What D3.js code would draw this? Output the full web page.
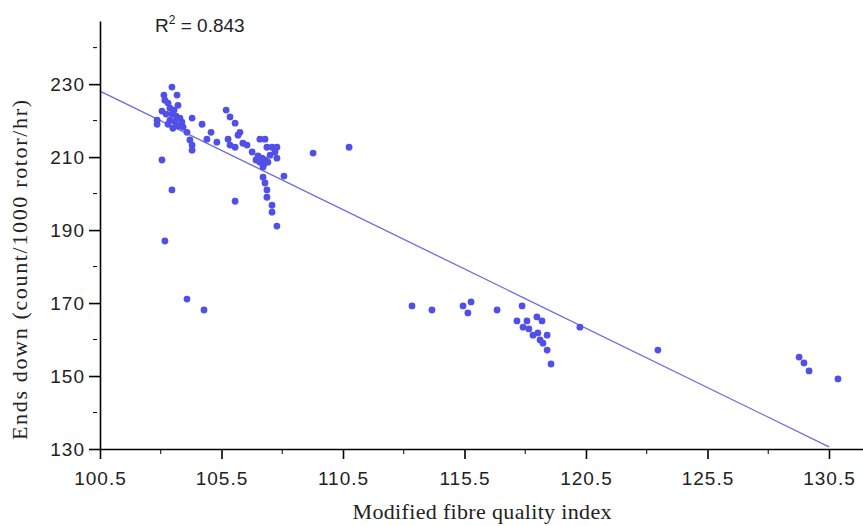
<!DOCTYPE html>
<html>
<head>
<meta charset="utf-8">
<script src="https://cdn.jsdelivr.net/npm/d3@7"></script>
<style>
  body { margin: 0; background: #fff; }
  svg { display: block; }
</style>
</head>
<body>
<script>
// Modified fibre quality index (x) vs ends down (y)
var mfqi = [
  103.46, 103.13, 103.67, 103.17, 103.30, 103.71, 103.05, 103.38, 103.55, 103.22,
  102.85, 102.85, 103.46, 103.63, 103.79, 103.38, 103.59, 103.87, 103.30, 103.71,
  103.50, 103.92, 104.29, 104.70, 104.08, 104.20, 104.29, 104.29, 105.07, 104.90,
  105.31, 103.05, 103.46, 103.17, 104.08, 104.78,
  105.69, 105.85, 106.06, 106.26, 106.18, 105.77, 105.85, 106.06, 106.38, 106.55,
  106.76, 107.08, 107.29, 107.37, 107.58, 107.78, 107.00, 107.17, 107.29, 107.08,
  107.25, 107.41, 106.92, 107.21, 107.50, 107.70, 107.78, 108.07, 107.21, 107.29,
  107.37, 107.37, 107.58, 107.58, 107.78, 106.06, 109.27, 110.75,
  113.34, 114.16, 115.44, 115.77, 115.64, 116.84, 117.87, 117.66, 118.07, 117.91,
  118.48, 118.69, 118.15, 118.32, 118.52, 118.90, 118.61, 118.73, 118.90, 119.06,
  120.25, 123.46, 129.27, 129.47, 129.68, 130.87
];
var endsDown = [
  229.2, 227.0, 227.0, 225.6, 224.8, 224.2, 222.6, 223.4, 222.9, 221.8,
  220.1, 219.0, 221.8, 221.2, 220.7, 220.1, 219.6, 219.6, 219.0, 218.5,
  217.9, 218.2, 220.7, 219.0, 216.8, 214.7, 213.3, 211.9, 216.8, 214.9,
  214.1, 209.2, 201.0, 187.0, 171.1, 168.1,
  222.9, 221.0, 219.3, 216.8, 216.0, 214.9, 213.3, 212.7, 213.8, 213.3,
  211.4, 214.9, 214.9, 212.7, 212.7, 212.7, 210.3, 209.7, 209.2, 208.6,
  208.1, 208.6, 209.2, 207.3, 210.5, 211.4, 209.7, 204.8, 204.5, 202.9,
  201.0, 199.0, 196.8, 194.9, 191.1, 197.9, 211.1, 212.7,
  169.2, 168.1, 169.2, 170.3, 167.3, 168.1, 169.2, 165.1, 165.1, 163.4,
  166.2, 165.1, 162.9, 161.2, 161.8, 161.2, 159.9, 159.0, 157.1, 153.3,
  163.4, 157.1, 155.2, 153.6, 151.4, 149.2
];

// fitted line end points
var fitX = [100.5, 130.5];
var fitY = [228.1, 130.6];

var xTicks = [100.5, 105.5, 110.5, 115.5, 120.5, 125.5, 130.5];
var xMinor = [103, 108, 113, 118, 123, 128];
var yTicks = [130, 150, 170, 190, 210, 230];
var yMinor = [140, 160, 180, 200, 220, 240];

var svgWidth = 863, svgHeight = 526;
var plotLeft = 100, plotBottom = 449, plotTop = 21;

var svg = d3.select('body').append('svg')
  .attr('width', svgWidth)
  .attr('height', svgHeight);

var x = d3.scaleLinear().domain([100.5, 131.9]).range([plotLeft, svgWidth]);
var y = d3.scaleLinear().domain([130, 247.3]).range([plotBottom, plotTop]);

// regression line
svg.append('line')
  .attr('x1', x(fitX[0])).attr('y1', y(fitY[0]))
  .attr('x2', x(fitX[1])).attr('y2', y(fitY[1]))
  .attr('stroke', '#6b6be6')
  .attr('stroke-width', 1.3);

// points
svg.append('g')
  .selectAll('circle')
  .data(mfqi)
  .enter()
  .append('circle')
  .attr('cx', function(d) { return x(d); })
  .attr('cy', function(d, i) { return y(endsDown[i]); })
  .attr('r', 3.4)
  .attr('fill', '#5050e8');

// x axis
var xAxis = svg.append('g')
  .attr('transform', 'translate(0,' + plotBottom + ')')
  .call(d3.axisBottom(x).tickValues(xTicks).tickSize(10).tickSizeOuter(0)
    .tickFormat(d3.format('.1f')));
xAxis.append('g')
  .selectAll('line')
  .data(xMinor)
  .enter()
  .append('line')
  .attr('x1', function(d) { return x(d); })
  .attr('x2', function(d) { return x(d); })
  .attr('y1', 0).attr('y2', 5)
  .attr('stroke', '#000');

// y axis
var yAxis = svg.append('g')
  .attr('transform', 'translate(' + plotLeft + ',0)')
  .call(d3.axisLeft(y).tickValues(yTicks).tickSize(11).tickSizeOuter(0));
yAxis.append('g')
  .selectAll('line')
  .data(yMinor)
  .enter()
  .append('line')
  .attr('x1', -7).attr('x2', -3)
  .attr('y1', function(d) { return y(d); })
  .attr('y2', function(d) { return y(d); })
  .attr('stroke', '#000');

svg.selectAll('.domain').attr('stroke', '#000').attr('stroke-width', 1.6);
svg.selectAll('.tick line').attr('stroke', '#000').attr('stroke-width', 1.6);
svg.selectAll('.tick text')
  .attr('font-family', '"Liberation Sans", Arial, sans-serif')
  .attr('font-size', 19)
  .attr('letter-spacing', 1)
  .attr('fill', '#222');
xAxis.selectAll('.tick text').attr('dy', '1.2em');
yAxis.selectAll('.tick text').attr('x', -15);

// R squared
var r2 = svg.append('text')
  .attr('x', 155).attr('y', 32)
  .attr('font-family', '"Liberation Sans", Arial, sans-serif')
  .attr('font-size', 19)
  .attr('fill', '#222');
r2.append('tspan').text('R');
r2.append('tspan').attr('font-size', 12).attr('dy', -8).text('2');
r2.append('tspan').attr('dy', 8).text(' = 0.843');

// axis titles
svg.append('text')
  .attr('x', 482).attr('y', 519)
  .attr('text-anchor', 'middle')
  .attr('font-family', '"Liberation Serif", "Times New Roman", serif')
  .attr('font-size', 22)
  .attr('textLength', 259)
  .attr('fill', '#222')
  .text('Modified fibre quality index');

svg.append('text')
  .attr('transform', 'translate(27,270) rotate(-90)')
  .attr('text-anchor', 'middle')
  .attr('font-family', '"Liberation Serif", "Times New Roman", serif')
  .attr('font-size', 22)
  .attr('textLength', 340)
  .attr('fill', '#222')
  .text('Ends down (count/1000 rotor/hr)');
</script>
</body>
</html>
